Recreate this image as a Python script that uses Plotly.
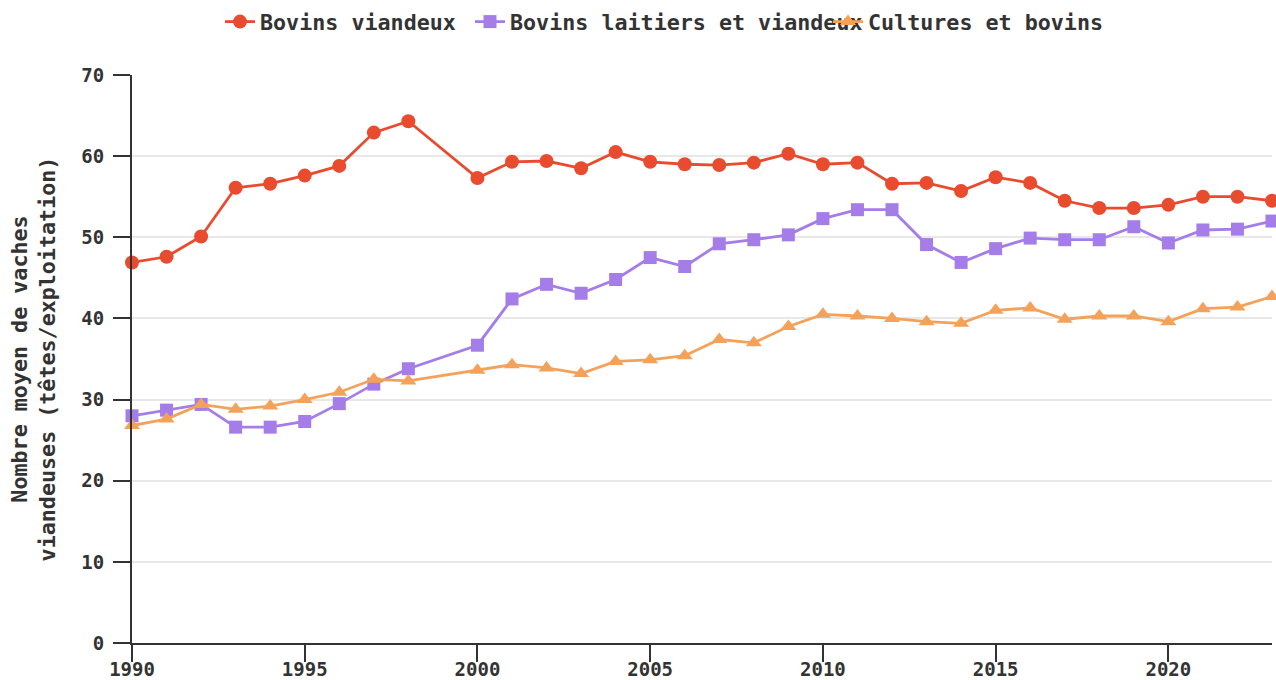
import plotly.graph_objects as go

years = [1990, 1991, 1992, 1993, 1994, 1995, 1996, 1997, 1998,
         2000, 2001, 2002, 2003, 2004, 2005, 2006, 2007, 2008, 2009,
         2010, 2011, 2012, 2013, 2014, 2015, 2016, 2017, 2018, 2019,
         2020, 2021, 2022, 2023]

bovins_viandeux = [46.9, 47.6, 50.1, 56.1, 56.6, 57.6, 58.8, 62.9, 64.3,
                   57.3, 59.3, 59.4, 58.5, 60.5, 59.3, 59.0, 58.9, 59.2, 60.3,
                   59.0, 59.2, 56.6, 56.7, 55.7, 57.4, 56.7, 54.5, 53.6, 53.6,
                   54.0, 55.0, 55.0, 54.5]

bovins_laitiers_viandeux = [28.0, 28.7, 29.4, 26.6, 26.6, 27.3, 29.5, 31.9, 33.8,
                            36.7, 42.4, 44.2, 43.1, 44.8, 47.5, 46.4, 49.2, 49.7, 50.3,
                            52.3, 53.4, 53.4, 49.1, 46.9, 48.6, 49.9, 49.7, 49.7, 51.3,
                            49.3, 50.9, 51.0, 52.0]

cultures_bovins = [26.8, 27.6, 29.4, 28.8, 29.2, 30.0, 30.9, 32.5, 32.3,
                   33.6, 34.3, 33.9, 33.2, 34.7, 34.9, 35.4, 37.4, 37.0, 39.0,
                   40.5, 40.3, 40.0, 39.6, 39.4, 41.0, 41.3, 39.9, 40.3, 40.3,
                   39.6, 41.2, 41.4, 42.7]

series_names = ["Bovins viandeux", "Bovins laitiers et viandeux", "Cultures et bovins"]
y_ticks = [0, 10, 20, 30, 40, 50, 60, 70]
x_ticks = [1990, 1995, 2000, 2005, 2010, 2015, 2020]

FONT = "DejaVu Sans Mono"
TXT = "#333333"
W, H = 1276, 680
L, R, T, B = 132, 4, 75, 37
colors = ["#e94b2f", "#a47de9", "#f4a25a"]
symbols = ["circle", "square", "triangle-up"]
sizes = [14, 13, 14]
data = [bovins_viandeux, bovins_laitiers_viandeux, cultures_bovins]
legend_ids = ["legend", "legend2", "legend3"]
legend_px = [220, 470, 828]  # left pixel of each legend entry

fig = go.Figure()
for name, vals, c, s, sz, lg in zip(series_names, data, colors, symbols, sizes, legend_ids):
    fig.add_trace(go.Scatter(
        x=years, y=vals, name=name, mode="lines+markers",
        line=dict(color=c, width=2.8),
        marker=dict(symbol=s, size=sz, color=c),
        cliponaxis=False, legend=lg,
    ))

pw = W - L - R
ph = H - T - B
leg_y = (H - B - 22) / ph
leg_common = dict(orientation="h", yanchor="middle", xanchor="left",
                  font=dict(family=FONT, size=21.7, color=TXT, weight="bold"),
                  bgcolor="rgba(0,0,0,0)", borderwidth=0, itemwidth=30)
layout_legends = {}
for lg, px in zip(legend_ids, legend_px):
    layout_legends[lg] = dict(leg_common, x=(px - L) / pw, y=leg_y)

fig.update_layout(
    width=W, height=H,
    margin=dict(l=L, r=R, t=T, b=B, autoexpand=False),
    paper_bgcolor="white", plot_bgcolor="white",
    font=dict(family=FONT, size=18, color=TXT),
    showlegend=True,
    **layout_legends,
)
fig.update_xaxes(
    range=[1990, 2023], tickvals=x_ticks, ticktext=[str(v) for v in x_ticks],
    showgrid=False, showline=True, linecolor=TXT, linewidth=2,
    ticks="outside", ticklen=17, tickwidth=2, tickcolor=TXT,
    ticklabelstandoff=-9,
    tickfont=dict(family=FONT, size=19, color=TXT, weight="bold"),
    zeroline=False, automargin=False,
)
fig.update_yaxes(
    range=[0, 70], tickvals=y_ticks,
    showgrid=True, gridcolor="#e8e8e8", gridwidth=1.5,
    showline=True, linecolor=TXT, linewidth=2,
    ticks="outside", ticklen=17, tickwidth=2, tickcolor=TXT,
    ticklabelstandoff=5,
    tickfont=dict(family=FONT, size=19, color=TXT, weight="bold"),
    zeroline=False, automargin=False,
    title=dict(text="Nombre moyen de vaches<br>viandeuses (têtes/exploitation)",
               font=dict(family=FONT, size=21.7, color=TXT, weight="bold"),
               standoff=20),
)

fig.write_html("out.html", config={"displayModeBar": False},
               post_script="document.body.style.margin='0';")
